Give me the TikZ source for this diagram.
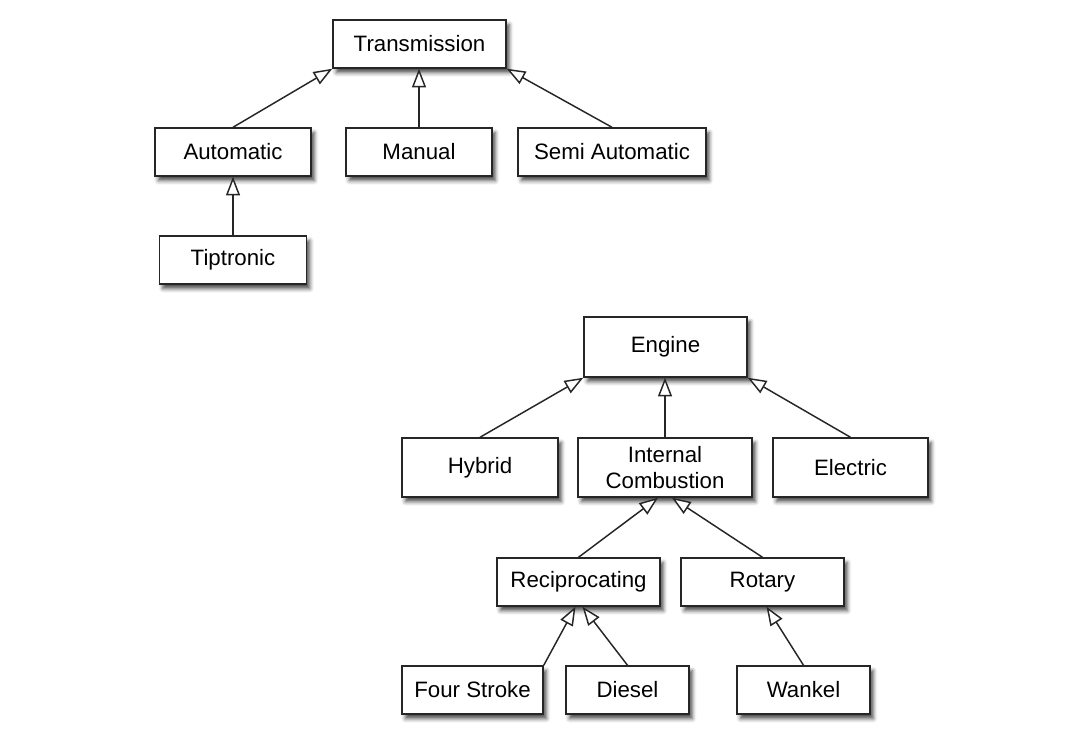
\documentclass[tikz,border=0pt]{standalone}
\usepackage{fontspec}
\setmainfont{Liberation Sans}
\usetikzlibrary{arrows.meta,shadows.blur,calc}
\tikzset{
  box/.style={draw=black!85, line width=1.1pt, fill=white, inner sep=0pt,
    font=\fontsize{16.7}{19.5}\selectfont, align=center,
    blur shadow={shadow xshift=2.5pt, shadow yshift=-3.5pt, shadow blur radius=3pt, shadow opacity=70}},
  isa/.style={draw=black!85, line width=1.1pt, -{Triangle[open, length=14pt, width=10.5pt, fill=white]}}
}
\begin{document}
\begin{tikzpicture}[x=0.75pt,y=-0.75pt]
\useasboundingbox (0,0) rectangle (1066,751);
% Transmission tree
\node[box, minimum width=129.75pt, minimum height=36pt] (trans) at (419.5,44) {Transmission};
\node[box, minimum width=117pt, minimum height=36pt] (auto) at (233,152) {Automatic};
\node[box, minimum width=109.5pt, minimum height=36pt] (man) at (419,152) {Manual};
\node[box, minimum width=141pt, minimum height=36pt] (semi) at (612,152) {Semi Automatic};
\node[box, minimum width=110.25pt, minimum height=36pt] (tip) at (233,260) {Tiptronic};
% Engine tree
\node[box, minimum width=122.25pt, minimum height=45pt] (eng) at (665.5,347) {Engine};
\node[box, minimum width=117pt, minimum height=44.25pt] (hyb) at (480,467.5) {Hybrid};
\node[box, minimum width=130.5pt, minimum height=44.25pt] (ic) at (665,467.5) {Internal\\Combustion};
\node[box, minimum width=116.25pt, minimum height=44.25pt] (ele) at (850.5,467.5) {Electric};
\node[box, minimum width=122.25pt, minimum height=36pt] (rec) at (578.5,582) {Reciprocating};
\node[box, minimum width=122.25pt, minimum height=36pt] (rot) at (762.5,582) {Rotary};
\node[box, minimum width=105.75pt, minimum height=36pt] (four) at (472.5,690) {Four Stroke};
\node[box, minimum width=92.25pt, minimum height=36pt] (die) at (627.5,690) {Diesel};
\node[box, minimum width=99.75pt, minimum height=36pt] (wan) at (803.5,690) {Wankel};
% connectors
\draw[isa] (auto.north) -- (trans.south west);
\draw[isa] (man.north) -- (man.north |- trans.south);
\draw[isa] (semi.north) -- (trans.south east);
\draw[isa] (tip.north) -- (auto.south);
\draw[isa] (hyb.north) -- (eng.south west);
\draw[isa] (ic.north) -- (ic.north |- eng.south);
\draw[isa] (ele.north) -- (eng.south east);
\draw[isa] (rec.north) -- ($(ic.south)+(-7,0)$);
\draw[isa] (rot.north) -- ($(ic.south)+(7,0)$);
\draw[isa] (four.north east) -- ($(rec.south)+(-3,0)$);
\draw[isa] (die.north) -- ($(rec.south)+(4,0)$);
\draw[isa] (wan.north) -- ($(rot.south)+(4,0)$);
\end{tikzpicture}
\end{document}
